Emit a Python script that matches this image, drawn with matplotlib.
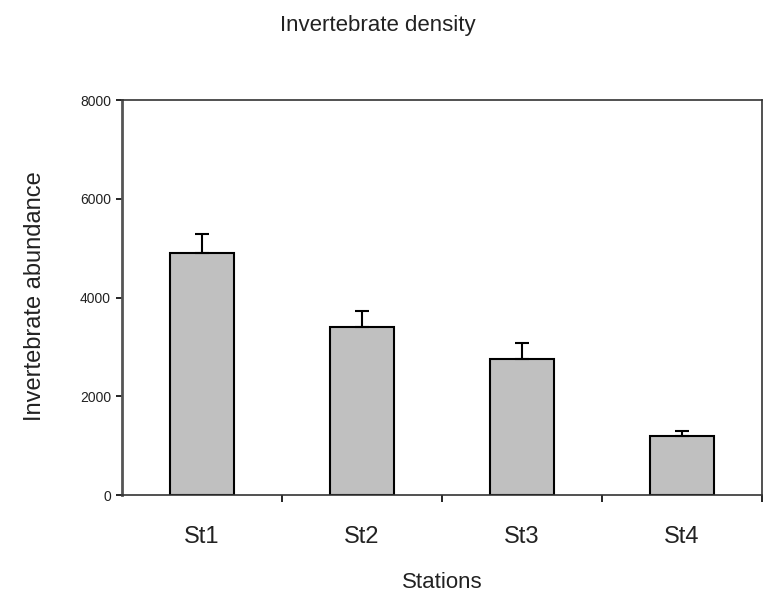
import matplotlib.pyplot as plt
import numpy as np

plt.rcParams['font.family'] = ['Liberation Sans', 'DejaVu Sans']

stations = ['St1', 'St2', 'St3', 'St4']
abundance = [4900, 3400, 2750, 1200]
errors = [390, 320, 320, 100]
y_ticks = [0, 2000, 4000, 6000, 8000]

fig = plt.figure(figsize=(7.65, 5.99), dpi=100)
ax = fig.add_axes([0.1595, 0.1736, 0.8365, 0.6594])

x = np.arange(len(stations))
ax.bar(x, abundance, width=0.4, color='#c0c0c0', edgecolor='black', linewidth=1.5, zorder=2)
ax.errorbar(x, abundance, yerr=[np.zeros(len(errors)), errors], fmt='none',
            ecolor='black', elinewidth=1.5, capsize=5, capthick=1.5, zorder=3)

ax.set_xlim(-0.5, len(stations) - 0.5)
ax.set_ylim(0, 8000)

# excel style: tick marks between categories, labels at centres
ax.set_xticks(x + 0.5)
ax.set_xticklabels([])
ax.set_xticks(x, minor=True)
ax.set_xticklabels(stations, minor=True, fontsize=17, color='#222222')
ax.tick_params(axis='x', which='major', direction='out', length=5, width=1.2)
ax.tick_params(axis='x', which='minor', length=0, pad=22)

ax.set_yticks(y_ticks)
ax.set_yticklabels([str(v) for v in y_ticks], fontsize=10, color='#222222')
ax.tick_params(axis='y', direction='out', length=4, width=1.2, pad=4)

for s in ax.spines.values():
    s.set_linewidth(1.2)
    s.set_color('#333333')
ax.spines['left'].set_linewidth(2)
ax.spines['left'].set_color('#555555')

fig.text(0.494, 0.958, 'Invertebrate density', ha='center', va='center', fontsize=16, color='#222222')
fig.text(0.046, 0.505, 'Invertebrate abundance', rotation=90, ha='center', va='center', fontsize=17, color='#222222')
fig.text(0.578, 0.027, 'Stations', ha='center', va='center', fontsize=16, color='#222222')

fig.savefig('out.png', dpi=100)
